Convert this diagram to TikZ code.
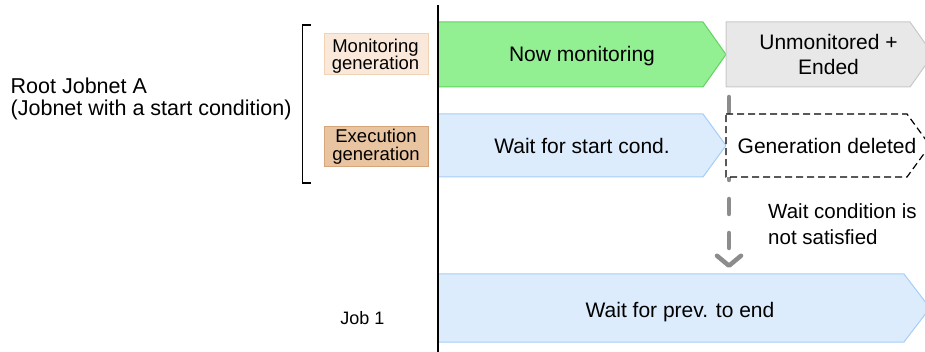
\documentclass[tikz,border=0pt]{standalone}
\usepackage{fontspec}
\setmainfont{Liberation Sans}
\usetikzlibrary{arrows.meta}
\definecolor{greenfill}{RGB}{146,239,146}
\definecolor{greenline}{RGB}{96,212,96}
\definecolor{grayfill}{RGB}{232,232,232}
\definecolor{grayline}{RGB}{200,200,200}
\definecolor{bluefill}{RGB}{220,236,252}
\definecolor{blueline}{RGB}{164,206,248}
\definecolor{monfill}{RGB}{250,233,218}
\definecolor{monline}{RGB}{240,210,180}
\definecolor{exefill}{RGB}{232,196,160}
\definecolor{exeline}{RGB}{214,166,122}
\definecolor{arrowgray}{RGB}{140,140,140}
\begin{document}
\begin{tikzpicture}[x=1pt,y=-1pt,
  big/.style={font=\fontsize{21}{25}\selectfont, align=center, inner sep=0pt, anchor=base},
  small/.style={font=\fontsize{18.5}{17.5}\selectfont, align=center, inner sep=0pt, anchor=base},
  genbox/.style={draw, line width=1pt},
  stategreen/.style={fill=greenfill, draw=greenline, line width=1pt},
  stategray/.style={fill=grayfill, draw=grayline, line width=1pt},
  stateblue/.style={fill=bluefill, draw=blueline, line width=1pt},
  statedel/.style={fill=white, draw=black, line width=1.2pt, dash pattern=on 7pt off 4pt},
  garrow/.style={draw=arrowgray, line width=4.5pt, line cap=round, dash pattern=on 15pt off 19pt,
    -{Straight Barb[length=10pt, width=24pt, line width=4.5pt, round]}},
]
\useasboundingbox (0,0) rectangle (925,352);
\clip (0,0) rectangle (925,352);

% generation label boxes
\draw[genbox, fill=monfill, draw=monline] (324,34) rectangle (428,75);
\draw[genbox, fill=exefill, draw=exeline] (324,127) rectangle (428,167);
\node[small] (mon) at (375.5,70) {Monitoring\\generation};
\node[small] (exe) at (376,160.5) {Execution\\generation};

% bracket
\draw[line width=1.5pt] (311,25) -- (302.5,25) -- (302.5,183) -- (311,183);

% left labels
\node[font=\fontsize{21.5}{22}\selectfont, align=left, inner sep=0pt, anchor=base west] (root) at (10.5,116)
  {Root Jobnet A\\(Jobnet with a start condition)};
\node[font=\fontsize{18}{20}\selectfont, inner sep=0pt, anchor=base] (job) at (362.5,324) {Job 1};

% state shapes
\draw[stategreen] (438,22) -- (703,22) -- (726,54.5) -- (703,87) -- (438,87) -- cycle;
\draw[stategray] (726,22) -- (910,22) -- (933,54.5) -- (910,87) -- (726,87) -- cycle;
\draw[stateblue] (438,114) -- (703,114) -- (726,145.5) -- (703,177) -- (438,177) -- cycle;
\draw[stateblue] (438,274) -- (904,274) -- (930,308) -- (904,342) -- (438,342) -- cycle;

% connector
\coordinate (arrtop) at (729,97);
\coordinate (arrbot) at (729,268);
\draw[garrow] (arrtop) -- (arrbot);

\draw[statedel] (726,114) -- (907,114) -- (930,145.5) -- (907,177) -- (726,177) -- cycle;

% state texts
\node[big] (nowmon) at (582,62) {Now monitoring};
\node[big] (unmon) at (828.5,75) {Unmonitored +\\Ended};
\node[big] (waitstart) at (582,153.5) {Wait for start cond.};
\node[big] (gendel) at (827,153.5) {Generation deleted};
\node[big] (waitprev) at (680,317) {Wait for prev. to end};
\node[big, align=left, anchor=base west, font=\fontsize{20.5}{26}\selectfont] (cond) at (768,244.5)
  {Wait condition is\\not satisfied};

% time axis line
\draw[line width=2pt] (438,5) -- (438,352);
\end{tikzpicture}
\end{document}
